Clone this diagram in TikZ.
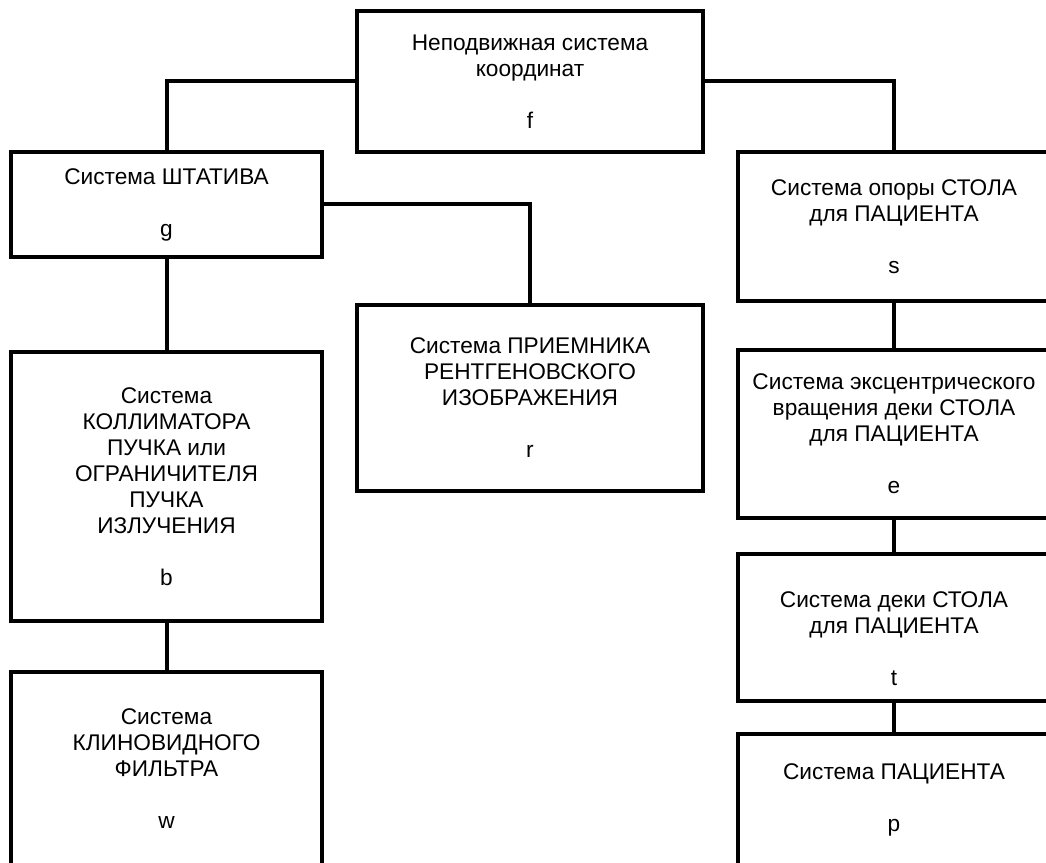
\documentclass[tikz,border=0pt]{standalone}
\usepackage{fontspec}
\setmainfont{Liberation Sans}
\usepackage{tikz}
\usetikzlibrary{positioning}

\begin{document}
\begin{tikzpicture}[
		x=0.75pt, y=-0.75pt, % pixel grid, y pointing down
		font=\fontsize{17pt}{19.5pt}\selectfont,
		% Node Styles
		base/.style={draw, line width=3pt, align=center, inner sep=0pt, outer sep=0pt, rectangle},
		leftbox/.style={base, minimum width=233.25pt},
		midbox/.style={base, minimum width=259.5pt},
		rightbox/.style={base, minimum width=234pt},
		link/.style={line width=3pt}
		]
		
		% Page frame (boxes on the right and bottom run off the page)
		\useasboundingbox (0,0) rectangle (1046,863);
		
		%% ================= TOP =================
		\node[midbox, minimum height=105.75pt] (fixed) at (530,81.5) {Неподвижная система\\координат\\[19.5pt]f};
		
		%% ================= LEFT COLUMN =================
		\node[leftbox, minimum height=78.75pt] (gantry) at (166.5,204.5) {Система ШТАТИВА\\[19.5pt]g};
		\node[leftbox, minimum height=201.75pt, below=71.25pt of gantry] (collim) {Система\\КОЛЛИМАТОРА\\ПУЧКА или\\ОГРАНИЧИТЕЛЯ\\ПУЧКА\\ИЗЛУЧЕНИЯ\\[19.5pt]b};
		\node[leftbox, minimum height=145.5pt, below=38.25pt of collim] (wedge) {Система\\КЛИНОВИДНОГО\\ФИЛЬТРА\\[19.5pt]w};
		
		%% ================= MIDDLE =================
		\node[midbox, minimum height=139.5pt, below=114.75pt of fixed] (receptor) {Система ПРИЕМНИКА\\РЕНТГЕНОВСКОГО\\ИЗОБРАЖЕНИЯ\\[19.5pt]r};
		
		%% ================= RIGHT COLUMN =================
		\node[rightbox, minimum height=111.75pt] (support) at (894,226.5) {Система опоры СТОЛА\\для ПАЦИЕНТА\\[19.5pt]s};
		\node[rightbox, minimum height=126pt, below=36.75pt of support] (eccentric) {Система эксцентрического\\вращения деки СТОЛА\\для ПАЦИЕНТА\\[19.5pt]e};
		\node[rightbox, minimum height=110.25pt, below=27pt of eccentric] (tabletop) {\rule{0pt}{28.5pt}Система деки СТОЛА\\для ПАЦИЕНТА\\[19.5pt]t};
		\node[rightbox, minimum height=99pt, below=24.75pt of tabletop] (patient) {Система ПАЦИЕНТА\\[19.5pt]p};
		
		% Edges
		\draw[link] (fixed.west) -| (gantry.north);
		\draw[link] (fixed.east) -| (support.north);
		\draw[link] (gantry.east) -| (receptor.north);
		\draw[link] (gantry) -- (collim);
		\draw[link] (collim) -- (wedge);
		\draw[link] (support) -- (eccentric);
		\draw[link] (eccentric) -- (tabletop);
		\draw[link] (tabletop) -- (patient);
		
	\end{tikzpicture}
\end{document}
